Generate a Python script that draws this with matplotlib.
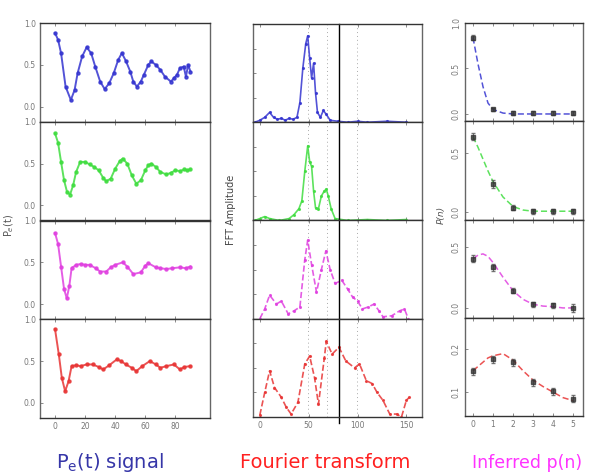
import matplotlib
matplotlib.use("Agg")
import matplotlib.pyplot as plt
import numpy as np

# Column 1: P_e(t) signal, t in microseconds
t_blue = [0, 2, 4, 7, 10.5, 13, 15, 18, 21, 24, 26.7, 30, 33, 36, 39, 42, 44.4, 47, 50, 52, 54.4, 57, 59, 62, 64, 67, 70, 73, 77, 79, 81, 83, 85.5, 87, 88.5, 90]
v_blue = [0.88, 0.8, 0.64, 0.24, 0.08, 0.2, 0.4, 0.6, 0.71, 0.64, 0.48, 0.3, 0.21, 0.28, 0.4, 0.56, 0.64, 0.55, 0.42, 0.3, 0.24, 0.3, 0.38, 0.5, 0.54, 0.5, 0.44, 0.36, 0.3, 0.34, 0.38, 0.46, 0.48, 0.36, 0.5, 0.42]

t_green = [0, 2, 4, 6, 8, 10, 12, 14, 16.7, 20, 23, 26, 29, 32, 34, 37, 40, 43, 45, 48, 51, 54, 57, 60, 62, 64, 67, 70, 74, 77, 80, 83, 86, 88, 90]
v_green = [0.86, 0.75, 0.52, 0.3, 0.16, 0.13, 0.24, 0.4, 0.52, 0.52, 0.49, 0.46, 0.42, 0.33, 0.29, 0.32, 0.44, 0.53, 0.56, 0.5, 0.36, 0.26, 0.3, 0.42, 0.48, 0.5, 0.46, 0.4, 0.37, 0.39, 0.42, 0.41, 0.43, 0.42, 0.43]

t_mag = [0, 2, 4, 6, 7.8, 9.5, 11, 14, 17, 20, 23, 27, 30, 34, 37, 40, 45, 48, 52, 57, 60, 62, 67, 70, 74, 78, 83, 87, 90]
v_mag = [0.85, 0.72, 0.45, 0.18, 0.07, 0.22, 0.43, 0.47, 0.48, 0.47, 0.47, 0.43, 0.39, 0.39, 0.44, 0.47, 0.5, 0.45, 0.36, 0.38, 0.46, 0.49, 0.44, 0.43, 0.42, 0.43, 0.44, 0.43, 0.45]

t_red = [0, 2.5, 4.5, 6.7, 9, 11, 14, 17, 21, 25, 29, 32, 36, 41, 44, 47, 51, 54, 58, 63, 67, 70, 74, 79, 83, 86, 90]
v_red = [0.88, 0.58, 0.3, 0.14, 0.26, 0.44, 0.45, 0.44, 0.46, 0.46, 0.43, 0.4, 0.45, 0.52, 0.5, 0.46, 0.42, 0.38, 0.44, 0.5, 0.46, 0.42, 0.44, 0.46, 0.4, 0.43, 0.44]

# Column 2: Fourier transform, frequency in kHz, amplitude (relative)
f_blue = [-5, 0, 5, 10, 14, 18, 22, 26, 30, 34, 38, 41, 44, 47, 49, 51, 53, 55, 57, 59, 62, 65, 68, 72, 80, 90, 100, 110, 130, 150]
a_blue = [0.0, 0.02, 0.05, 0.1, 0.05, 0.03, 0.04, 0.02, 0.04, 0.03, 0.05, 0.2, 0.55, 0.8, 0.88, 0.65, 0.45, 0.6, 0.3, 0.1, 0.05, 0.12, 0.08, 0.02, 0.01, 0.0, 0.01, 0.0, 0.01, 0.0]

f_green = [-5, 0, 5, 10, 20, 30, 35, 40, 43, 46, 49, 51, 53, 55, 57, 60, 63, 66, 68, 70, 73, 77, 90, 110, 130, 150]
a_green = [0.0, 0.02, 0.04, 0.02, 0.0, 0.02, 0.06, 0.12, 0.2, 0.5, 0.76, 0.6, 0.55, 0.3, 0.13, 0.12, 0.25, 0.3, 0.32, 0.25, 0.12, 0.02, 0.0, 0.01, 0.0, 0.01]

f_mag = [0, 5, 10, 17, 22, 29, 35, 41, 46, 49, 53, 58, 63, 67.6, 72, 77, 84, 90, 95, 100, 105, 111, 117, 122, 126, 135, 143, 148, 152]
a_mag = [0.0, 0.1, 0.24, 0.15, 0.18, 0.05, 0.08, 0.12, 0.6, 0.8, 0.55, 0.27, 0.5, 0.69, 0.5, 0.36, 0.39, 0.3, 0.22, 0.18, 0.1, 0.12, 0.15, 0.08, 0.02, 0.03, 0.08, 0.1, 0.0]

f_red = [0, 5, 10, 15, 22, 27, 32, 39, 46, 51, 56, 60, 66, 68, 74, 81, 88, 97, 102, 109, 115, 120, 126, 133, 140, 145, 150, 153]
a_red = [0.02, 0.25, 0.47, 0.3, 0.2, 0.1, 0.03, 0.15, 0.54, 0.62, 0.4, 0.13, 0.6, 0.77, 0.64, 0.71, 0.57, 0.5, 0.54, 0.37, 0.34, 0.25, 0.17, 0.03, 0.03, 0.0, 0.17, 0.2]

f_dotted = [49, 69, 99]
f_solid = 80.6

# Column 3: inferred photon number distribution p(n)
n_pts = [0, 1, 2, 3, 4, 5]
p_blue = [0.84, 0.05, 0.01, 0.01, 0.01, 0.01]
p_green = [0.64, 0.24, 0.04, 0.01, 0.01, 0.01]
p_mag = [0.40, 0.33, 0.14, 0.03, 0.02, 0.0]
p_red = [0.149, 0.177, 0.17, 0.123, 0.102, 0.084]
err_blue = [0.03, 0.02, 0.02, 0.02, 0.02, 0.02]
err_green = [0.03, 0.03, 0.02, 0.02, 0.02, 0.02]
err_mag = [0.03, 0.03, 0.02, 0.02, 0.02, 0.03]
err_red = [0.008, 0.008, 0.008, 0.008, 0.008, 0.008]

n_fit = [0, 0.25, 0.5, 0.75, 1, 1.5, 2, 2.5, 3, 3.5, 4, 4.5, 5]
fit_blue = [0.84, 0.55, 0.3, 0.12, 0.05, 0.01, 0.0, 0.0, 0.0, 0.0, 0.0, 0.0, 0.0]
fit_green = [0.64, 0.55, 0.45, 0.35, 0.26, 0.13, 0.05, 0.02, 0.01, 0.01, 0.01, 0.01, 0.01]
fit_mag = [0.40, 0.43, 0.44, 0.42, 0.37, 0.25, 0.14, 0.07, 0.03, 0.015, 0.01, 0.0, 0.0]
fit_red = [0.15, 0.16, 0.17, 0.18, 0.185, 0.19, 0.175, 0.15, 0.128, 0.113, 0.10, 0.087, 0.08]

colors = ['#3535d0', '#40dd40', '#e040e0', '#e83535']
tick_grey = '#777777'

fig = plt.figure(figsize=(5.95, 4.75), dpi=100)
W, H = 595.0, 475.0

def col_axes(left, right, top, bottom):
    axs = []
    h = (bottom - top) / 4.0
    for i in range(4):
        y0 = top + i * h
        axs.append(fig.add_axes([left / W, 1 - (y0 + h) / H, (right - left) / W, h / H]))
    return axs

ax1 = col_axes(40, 210, 23, 418)
ax2 = col_axes(253, 422, 24, 417)
ax3 = col_axes(465, 583, 23, 416)

def style(ax, last):
    for s in ax.spines.values():
        s.set_color('#666666')
        s.set_linewidth(1.0)
    ax.spines['top'].set_color('#333333')
    ax.spines['bottom'].set_color('#333333')
    ax.tick_params(direction='in', length=2.5, width=0.6, colors=tick_grey,
                   labelsize=5.5, top=True, pad=3)
    if not last:
        ax.tick_params(labelbottom=False)

# column 1
sig = [(t_blue, v_blue), (t_green, v_green), (t_mag, v_mag), (t_red, v_red)]
for i, ax in enumerate(ax1):
    t, v = sig[i]
    ax.plot(t, v, color=colors[i], lw=1.4, marker='o', ms=2.2, alpha=0.85)
    ax.set_xlim(-10, 103)
    ax.set_ylim(-0.18, 1.0)
    ax.set_yticks([0.0, 0.5, 1.0])
    ax.set_yticklabels(['0.0', '0.5', '1.0'])
    ax.set_xticks([0, 20, 40, 60, 80])
    style(ax, i == 3)

# column 2
spec = [(f_blue, a_blue), (f_green, a_green), (f_mag, a_mag), (f_red, a_red)]
for i, ax in enumerate(ax2):
    f, a = spec[i]
    for fd in f_dotted:
        ax.axvline(fd, color='#aaaaaa', lw=0.7, ls=(0, (1, 3)))
    ax.plot(f, a, color=colors[i], lw=1.2, marker='.', ms=2.5, alpha=0.85, ls='--' if i > 1 else '-')
    ax.axvline(f_solid, color='black', lw=1.0, ymin=-0.06 if i == 3 else 0, clip_on=False)
    ax.set_xlim(-7, 166)
    ax.set_ylim(0, 1.0)
    ax.set_yticks([0.25, 0.5, 0.75])
    ax.set_yticklabels([])
    ax.set_xticks([0, 50, 100, 150])
    style(ax, i == 3)

# column 3
pts = [(p_blue, err_blue, fit_blue), (p_green, err_green, fit_green),
       (p_mag, err_mag, fit_mag), (p_red, err_red, fit_red)]
ylims = [(-0.08, 1.0), (-0.06, 0.77), (-0.08, 0.72), (0.044, 0.274)]
yt = [([0.0, 0.5, 1.0], ['0.0', '0.5', '1.0']), ([0.0, 0.5], ['0.0', '0.5']),
      ([0.0, 0.5], ['0.0', '0.5']), ([0.1, 0.2], ['0.1', '0.2'])]
for i, ax in enumerate(ax3):
    p, e, fit = pts[i]
    ax.plot(n_fit, fit, color=colors[i], lw=1.1, ls=(0, (4, 2)), alpha=0.85)
    ax.errorbar(n_pts, p, yerr=e, fmt='s', ms=2.6, color='#333333', ecolor='#555555',
                elinewidth=0.7, capsize=1.2, alpha=0.8)
    ax.set_xlim(-0.4, 5.5)
    ax.set_ylim(*ylims[i])
    ax.set_yticks(yt[i][0])
    ax.set_yticklabels(yt[i][1], rotation=90, va='center')
    ax.set_xticks(n_pts)
    style(ax, i == 3)

# axis labels
fig.text(9 / W, 1 - 225 / H, r'P$_e$(t)', rotation=90, fontsize=7, color='#555555',
         ha='center', va='center')
fig.text(231 / W, 1 - 210 / H, 'FFT Amplitude', rotation=90, fontsize=7, color='#444444',
         ha='center', va='center')
fig.text(441 / W, 1 - 215 / H, 'P(n)', rotation=90, fontsize=6.5, color='#555555',
         ha='center', va='center', style='italic')

# column captions
fig.text(110 / W, 1 - 463 / H, r'P$_\mathrm{e}$(t) signal', fontsize=14, color='#3636a8',
         ha='center', va='center')
fig.text(325 / W, 1 - 463 / H, 'Fourier transform', fontsize=14, color='#ff2020',
         ha='center', va='center')
fig.text(527 / W, 1 - 463 / H, 'Inferred p(n)', fontsize=12.5, color='#ff33ff',
         ha='center', va='center')

fig.savefig('out.png', dpi=100)
